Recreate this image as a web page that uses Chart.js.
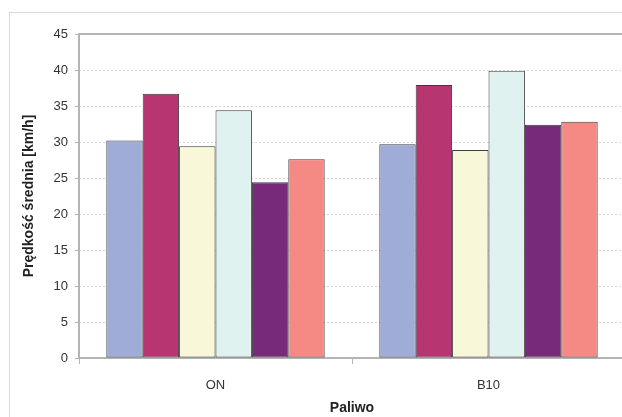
<!DOCTYPE html>
<html>
<head>
<meta charset="utf-8">
<script src="https://cdn.jsdelivr.net/npm/chart.js"></script>
<style>
  html, body { margin: 0; padding: 0; background: #fff; overflow: hidden; }
  #wrap { position: relative; width: 622px; height: 417px; overflow: hidden; }
  #frame { position: absolute; left: 9px; top: 12px; width: 700px; height: 500px; border: 1px solid #d9d9d9; }
  #box { position: absolute; left: 0; top: 0; width: 625px; height: 417px; }
</style>
</head>
<body>
<div id="wrap">
  <div id="frame"></div>
  <div id="box"><canvas id="chart" width="625" height="417"></canvas></div>
</div>
<script>
// kategorie i serie
const categories = ["ON", "B10"];
const series1 = [30.2, 29.7];
const series2 = [36.7, 37.9];
const series3 = [29.4, 28.9];
const series4 = [34.4, 39.9];
const series5 = [24.4, 32.4];
const series6 = [27.6, 32.8];
const seriesNames = ["Seria 1", "Seria 2", "Seria 3", "Seria 4", "Seria 5", "Seria 6"];
const colors = ["#a0acd8", "#b73571", "#f8f8d8", "#e0f2f0", "#782a7a", "#f58a85"];

const allSeries = [series1, series2, series3, series4, series5, series6];
const FONT = "'Liberation Sans', Arial, sans-serif";
const AXIS_GRAY = "#b4b4b4";

// ramka obszaru wykresu (góra, lewa, dół)
const framePlugin = {
  id: 'frame',
  beforeDatasetsDraw(chart) {
    const a = chart.chartArea;
    const ctx = chart.ctx;
    ctx.save();
    ctx.strokeStyle = AXIS_GRAY;
    ctx.lineWidth = 2;
    ctx.beginPath();
    ctx.moveTo(a.right, a.top);
    ctx.lineTo(a.left, a.top);
    ctx.lineTo(a.left, a.bottom);
    ctx.lineTo(a.right, a.bottom);
    ctx.stroke();
    ctx.restore();
  }
};

new Chart(document.getElementById('chart'), {
  type: 'bar',
  data: {
    labels: categories,
    datasets: allSeries.map((s, i) => ({
      label: seriesNames[i],
      data: s,
      backgroundColor: colors[i],
      borderColor: "#3c3c3c",
      borderWidth: 1,
      borderSkipped: false,
      categoryPercentage: 0.8,
      barPercentage: 1.0
    }))
  },
  options: {
    responsive: false,
    animation: false,
    layout: { padding: { top: 34, right: 0, bottom: 0, left: 0 } },
    plugins: { legend: { display: false }, tooltip: { enabled: false } },
    scales: {
      x: {
        grid: {
          offset: true,
          drawOnChartArea: false,
          drawTicks: true,
          tickLength: 6,
          tickColor: AXIS_GRAY,
          tickWidth: 1
        },
        border: { display: false },
        ticks: { color: "#333", font: { family: FONT, size: 13 }, padding: 14 },
        title: {
          display: true,
          text: "Paliwo",
          color: "#222",
          font: { family: FONT, size: 14, weight: 'bold' },
          padding: { top: 1, bottom: 0 }
        },
        afterFit(scale) { scale.height = 59; }
      },
      y: {
        min: 0,
        max: 45,
        ticks: { stepSize: 5, color: "#333", font: { family: FONT, size: 13 }, padding: 7 },
        grid: {
          color: (ctx) => (ctx.tick && (ctx.tick.value === 0 || ctx.tick.value === 45)) ? 'rgba(0,0,0,0)' : '#d8d8d8',
          lineWidth: 1,
          tickLength: 4,
          tickColor: AXIS_GRAY,
          tickWidth: 1
        },
        border: { display: false, dash: [2, 2] },
        title: {
          display: true,
          text: "Prędkość średnia [km/h]",
          color: "#222",
          font: { family: FONT, size: 14, weight: 'bold' },
          padding: { top: 21, bottom: 0 }
        },
        afterFit(scale) { scale.width = 79; }
      }
    }
  },
  plugins: [framePlugin]
});
</script>
</body>
</html>
